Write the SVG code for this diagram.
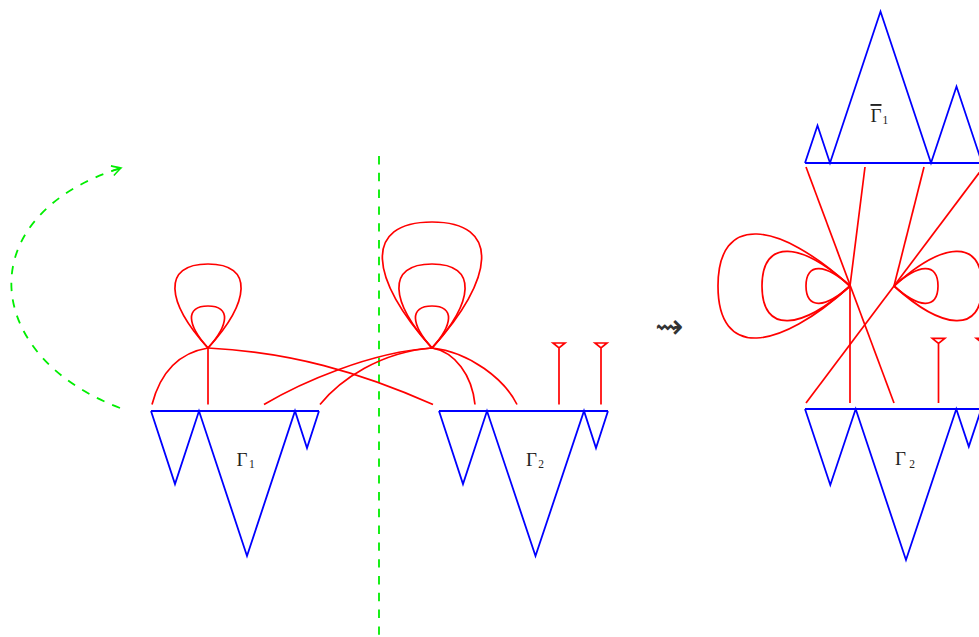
<svg xmlns="http://www.w3.org/2000/svg" width="979" height="637" viewBox="0 0 979 637">
<style>
.blk{fill:none;stroke:#0000ff;stroke-width:1.8;stroke-linejoin:miter}
.ed{fill:none;stroke:#ff0000;stroke-width:1.7}
.gr{fill:none;stroke:#00ee00;stroke-width:1.8;stroke-dasharray:8.4 8.4}
.lb{font-family:"Liberation Serif","Times New Roman",serif;fill:#222}
.big{font-size:19px}
.sub{font-size:11.5px}
</style>
<defs>
<marker id="to" markerUnits="userSpaceOnUse" markerWidth="16" markerHeight="16" refX="0" refY="0" viewBox="-10 -8 12 16" orient="auto">
<path d="M-9,-5 Q-3,-1.5 0,0 Q-3,1.5 -9,5 M-10,0 H0" fill="none" stroke="#00ee00" stroke-width="1.6"/>
</marker>
</defs>

<g id="flip-arrow">
<path class="gr" d="M120,408 C-20,355 -30,215 121,168" marker-end="url(#to)"/>
</g>
<g id="cut-line">
<line class="gr" x1="379" y1="156" x2="379" y2="637"/>
</g>

<g id="gamma1">
<path class="blk" d="M151,411 H319 M151,411 L175,484 L199,411 L247,556 L295,411 L307,448 L319,411"/>
<text class="lb" y="466"><tspan class="big" x="236.5">Γ</tspan><tspan class="sub" x="249" y="467.5">1</tspan></text>
</g>
<g id="gamma2">
<path class="blk" d="M439,411 H608 M439,411 L463,484 L487,411 L535.5,556 L584,411 L596,448 L608,411"/>
<text class="lb" y="466"><tspan class="big" x="526">Γ</tspan><tspan class="sub" x="538.3" y="467.5">2</tspan></text>
</g>
<g id="gamma1bar">
<path class="blk" d="M805,163 H995 M805,163 L817.5,125.5 L830,163 L880.5,11.5 L931,163 L956.5,86.5 L982,163"/>
<text class="lb" y="122"><tspan class="big" x="870.5" text-decoration="overline">Γ</tspan><tspan class="sub" x="882.5" y="124">1</tspan></text>
</g>
<g id="gamma2r">
<path class="blk" d="M805,409 H995 M805,409 L830.3,485 L855.7,409 L906,560 L956.3,409 L968.8,446.6 L981.3,409"/>
<text class="lb" y="465"><tspan class="big" x="895">Γ</tspan><tspan class="sub" x="909.3" y="468">2</tspan></text>
</g>
<g id="squiggle">
<text x="655" y="338" font-family="DejaVu Sans, sans-serif" font-size="34" fill="#333">⇝</text>
</g>

<g id="vertex-L">
<path class="ed" d="M208,348 C187,324.9 184.9,306 208,306 C231.1,306 229,324.9 208,348"/>
<path class="ed" d="M208,348 C166,301.8 161.8,264 208,264 C254.2,264 250,301.8 208,348"/>
</g>
<g id="vertex-C">
<path class="ed" d="M432,348 C411,324.9 408.9,306 432,306 C455.1,306 453,324.9 432,348"/>
<path class="ed" d="M432,348 C390,301.8 385.8,264 432,264 C478.2,264 474,301.8 432,348"/>
<path class="ed" d="M432,348 C369,278.7 362.7,222 432,222 C501.3,222 495,278.7 432,348"/>
</g>
<g id="vertex-N1">
<path class="ed" d="M850,286 C825.8,264 806,261.8 806,286 C806,310.2 825.8,308 850,286"/>
<path class="ed" d="M850,286 C801.6,242 762,237.6 762,286 C762,334.4 801.6,330 850,286"/>
<path class="ed" d="M850,286 C777.4,220 718,213.4 718,286 C718,358.6 777.4,352 850,286"/>
</g>
<g id="vertex-N2">
<path class="ed" d="M894,286 C918.2,264 938,261.8 938,286 C938,310.2 918.2,308 894,286"/>
<path class="ed" d="M894,286 C942.4,242 982,237.6 982,286 C982,334.4 942.4,330 894,286"/>
</g>
<g id="antennas">
<path class="ed" d="M559,348 V404.5 M553,343 H565 L559,348 Z"/>
<path class="ed" d="M601,348 V404.5 M595,343 H607 L601,348 Z"/>
<path class="ed" d="M938.5,343.3 V403 M932.3,338.3 H944.8 L938.5,343.3 Z"/>
<path class="ed" d="M982.5,343.3 V403 M976.3,338.3 H988.8 L982.5,343.3 Z"/>
</g>

<g id="connectors">
<path class="ed" d="M152,404.5 Q165,355 208,348"/>
<path class="ed" d="M208,348 V404.5"/>
<path class="ed" d="M208,348 C290,352 360,372 433,404.5"/>
<path class="ed" d="M264,404.5 C300,383 370,352 432,348"/>
<path class="ed" d="M320,404.5 C340,380 380,352 432,348"/>
<path class="ed" d="M432,348 C455,352 472,375 475,404.5"/>
<path class="ed" d="M432,348 C470,352 505,380 517,404.5"/>
<path class="ed" d="M806,167 L894,403"/>
<path class="ed" d="M865,167 L850,286 L850,403"/>
<path class="ed" d="M924,167 L894,286"/>
<path class="ed" d="M983.5,167 L806,403"/>
</g>
</svg>
